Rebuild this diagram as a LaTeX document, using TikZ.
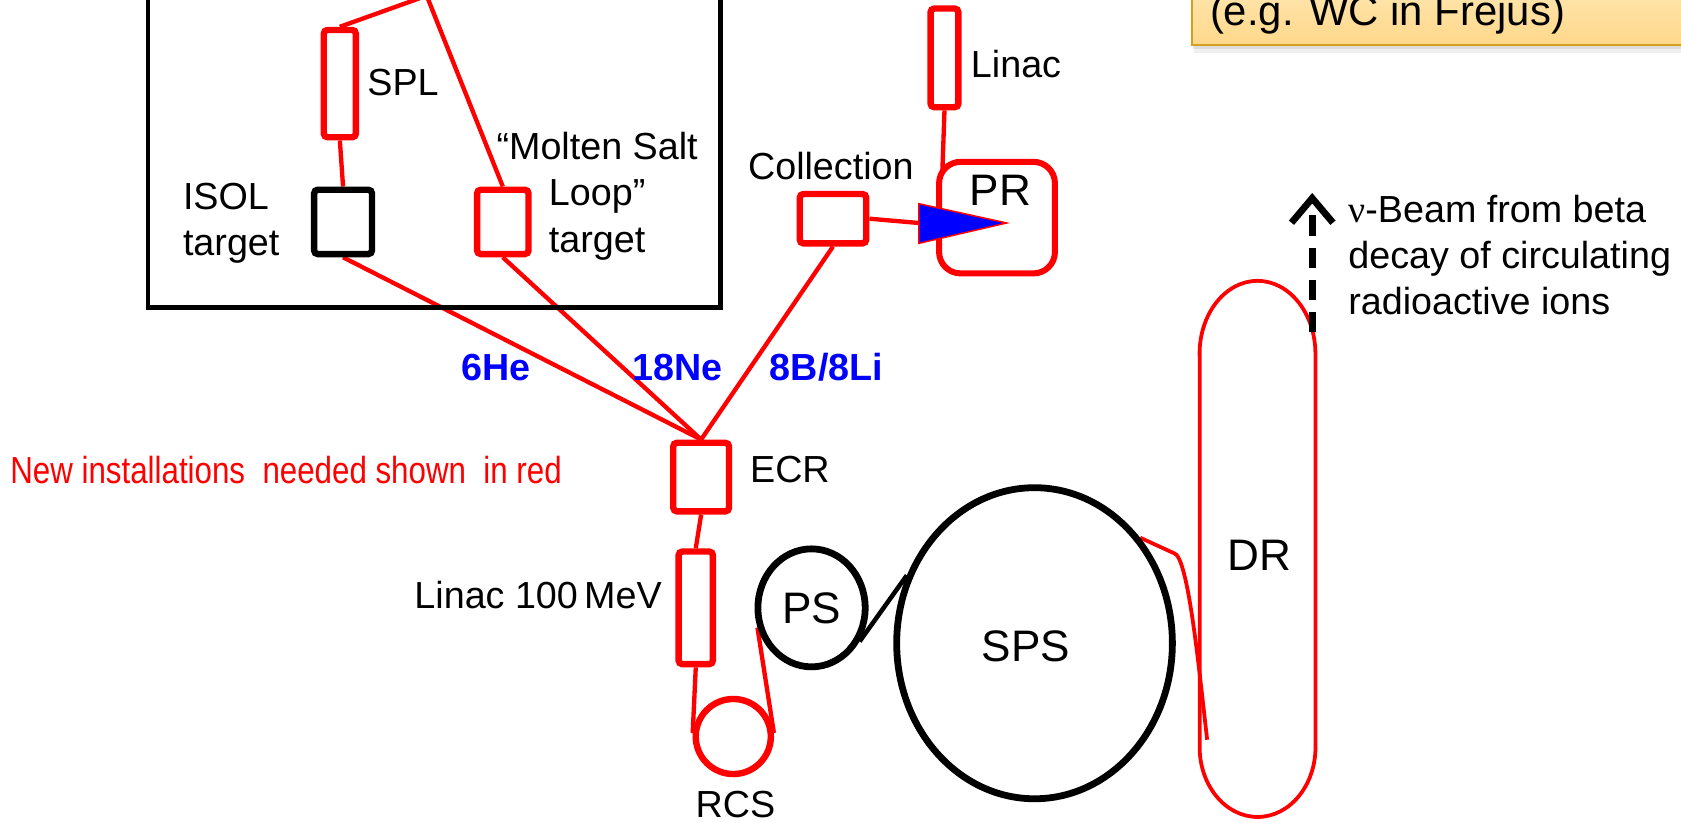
\documentclass[tikz,border=0pt]{standalone}
\usepackage{fontspec}
\setmainfont{Liberation Sans}
\newfontfamily\narrowfont[FakeStretch=0.83]{Liberation Sans}
\newfontfamily\greekfont{Liberation Serif}
\usetikzlibrary{shapes.geometric,arrows.meta,calc}
\definecolor{myred}{RGB}{255,0,0}
\definecolor{myblue}{RGB}{0,0,255}
\definecolor{boxfilltop}{RGB}{255,234,186}
\definecolor{boxfillbot}{RGB}{255,216,138}
\definecolor{boxdraw}{RGB}{214,160,30}
\pgfdeclarelayer{bg}
\pgfsetlayers{bg,main}
\tikzset{
 redbox/.style={draw=myred, line width=1.7pt, fill=white, rounded corners=1pt, inner sep=0pt},
 blackbox/.style={draw=black, line width=1.7pt, fill=white, rounded corners=1pt, inner sep=0pt},
 redline/.style={draw=myred, line width=1.15pt},
 lbl/.style={font=\fontsize{10}{12.3}\selectfont, inner sep=0pt, text=black},
 biglbl/.style={font=\fontsize{11.7}{14}\selectfont, inner sep=0pt},
 isotope/.style={font=\fontsize{10}{12}\selectfont\bfseries, text=myblue, inner sep=0pt},
 ring/.style={ellipse, draw=black, line width=1.8pt, inner sep=0pt},
}
\begin{document}
\begin{tikzpicture}[x=0.01cm,y=-0.01cm]
\useasboundingbox (0,0) rectangle (1568,767);
\clip (0,0) rectangle (1568,767);

% big black frame (top cut off)
\draw[line width=1.2pt] (138,-30) rectangle (672,287);

% note box top right
\fill[black, opacity=0.06] (1114,-30) rectangle (1610,49);
\fill[black, opacity=0.08] (1113,-30) rectangle (1610,46);
\draw[draw=boxdraw, line width=0.7pt, top color=boxfilltop, bottom color=boxfillbot] (1112,-30) rectangle (1610,42);
\node[font=\fontsize{11.1}{13}\selectfont, anchor=base west, inner sep=0pt] (frejus) at (1128,24) {(e.g. WC in Frejus)};

% boxes
\coordinate (top) at (398,-4);
\node[redbox, minimum width=0.30cm, minimum height=1.00cm] (spl) at (317,78) {};
\node[lbl, anchor=west] (spllbl) at (342,77) {SPL};
\node[blackbox, minimum width=0.54cm, minimum height=0.60cm] (isol) at (320,207) {};
\node[lbl, anchor=west, align=left] (isollbl) at (170,208) {ISOL\\target};
\node[redbox, minimum width=0.48cm, minimum height=0.60cm] (molten) at (469,207) {};
\node[lbl, align=center] (moltenlbl) at (557,183) {“Molten Salt\\Loop”\\target};

\node[redbox, minimum width=0.62cm, minimum height=0.46cm] (coll) at (777,204) {};
\node[lbl] (colllbl) at (775,155) {Collection};
\node[redbox, minimum width=0.26cm, minimum height=0.92cm] (linac) at (881,54) {};
\node[lbl, anchor=west] (linaclbl) at (905,60) {Linac};
\node[draw=myred, line width=1.6pt, rounded corners=0.2cm, minimum width=1.08cm, minimum height=1.04cm, inner sep=0pt] (pr) at (930,203) {};
\coordinate (prin) at (879,160);
\node[biglbl] (prlbl) at (933,178) {PR};
\coordinate (tri) at (857,208);
\fill[myblue, draw=myred, line width=0.4pt] (857,190) -- (939,208) -- (857,227) -- cycle;

\node[isotope] (he) at (463,343) {6He};
\node[isotope] (ne) at (632,343) {18Ne};
\node[isotope] (bli) at (771,343) {8B/8Li};

\node[redbox, minimum width=0.52cm, minimum height=0.64cm] (ecr) at (654,445) {};
\node[lbl, anchor=west] (ecrlbl) at (699,438) {ECR};
\node[font=\narrowfont\fontsize{10}{12}\selectfont, text=myred, anchor=west, inner sep=0pt] (newinst) at (9,438) {New installations\ \ needed shown\ \ in red};

\node[redbox, minimum width=0.32cm, minimum height=1.05cm] (lin100) at (649,567) {};
\node[lbl, anchor=east] (lin100lbl) at (618,555) {Linac 100\,MeV};
\node[circle, draw=myred, line width=1.7pt, minimum size=0.70cm, inner sep=0pt] (rcs) at (684,687) {};
\node[lbl] (rcslbl) at (686,750) {RCS};

\node[ring, minimum width=1.00cm, minimum height=1.10cm, font=\fontsize{11.7}{14}\selectfont] (ps) at (757,567) {PS};
\node[ring, minimum width=2.57cm, minimum height=2.90cm] (sps) at (965,600) {};
\node[biglbl] (spslbl) at (957,603) {SPS};

% decay ring
\draw[myred, line width=1.0pt] (1119,330) -- (1119,697) arc[start angle=180, end angle=360, x radius=0.54cm, y radius=0.65cm] -- (1227,330) arc[start angle=0, end angle=180, x radius=0.54cm, y radius=0.68cm] -- cycle;
\node[biglbl] (drlbl) at (1175,518) {DR};

% neutrino beam
\coordinate (beamstart) at (1224,310);
\coordinate (beamend) at (1224,180);
\draw[line width=1.8pt, dash pattern=on 5.5pt off 3pt, -{Straight Barb[length=6.5pt,width=11pt,line width=1.8pt]}] (beamstart) -- (beamend);
\node[lbl, anchor=west, align=left] (beamlbl) at (1257,238) {{\greekfont ν}-Beam from beta\\decay of circulating\\radioactive ions};

% connectors
\begin{pgfonlayer}{bg}
\draw[redline] (spl.north) -- (top) -- (molten.north);
\draw[redline] (spl.south) -- (isol.north);
\draw[redline] (isol.south) -- (ecr.north);
\draw[redline] (molten.south) -- (ecr.north);
\draw[redline] (coll.south) -- (ecr.north);
\draw[redline] (coll.east) -- (tri);
\draw[redline] (linac.south) -- (prin);
\draw[redline] (ecr.south) -- (lin100.north);
\draw[redline] (lin100.south) -- (rcs.175);
\draw[redline] (rcs.5) -- (ps.200);
\draw[line width=1.2pt] (ps.-35) -- (sps.152);
\draw[myred, line width=1.0pt] (sps.45) -- (1095,516) .. controls (1108,518) and (1118,620) .. (1126,690);
\end{pgfonlayer}
\end{tikzpicture}
\end{document}
